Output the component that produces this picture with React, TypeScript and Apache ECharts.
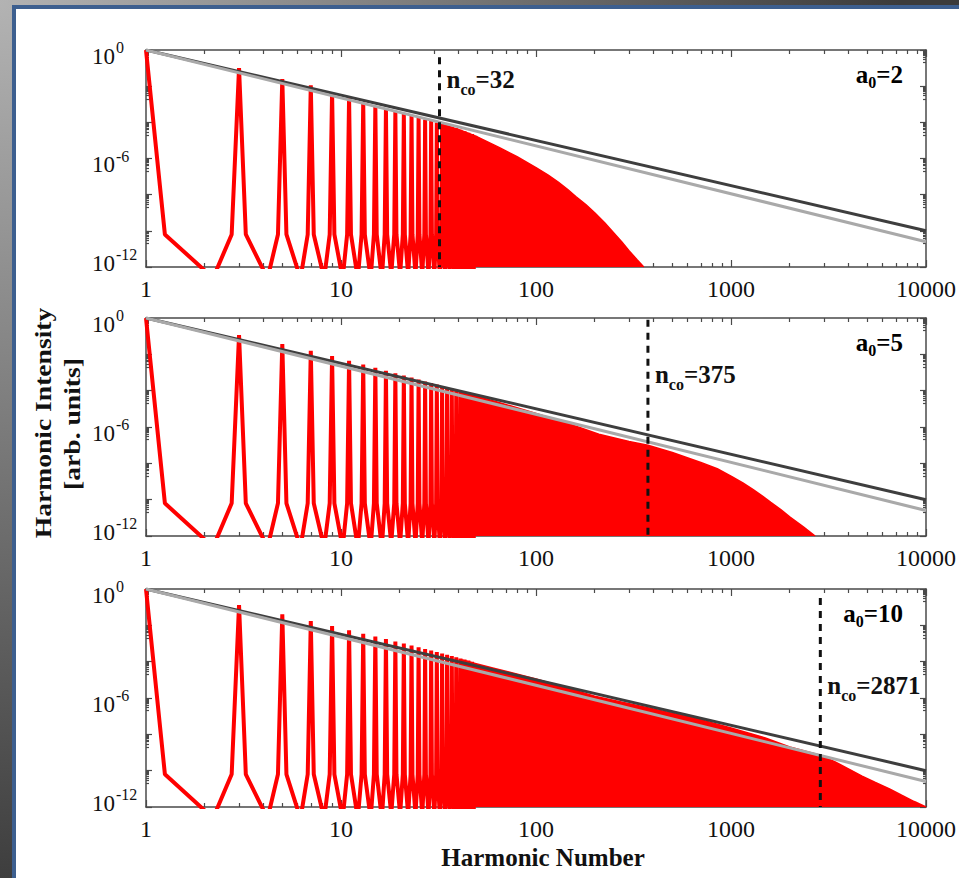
import React, { useEffect, useRef } from "react";
import * as echarts from "echarts";

// Laser strength of each panel and the cut-off harmonic marked in it
const A0_VALUES = ["2", "5", "10"];
const N_CUTOFF = [32, 375, 2871];

// Odd harmonics that are resolved as separate lines
const ODD_HARMONICS = [1, 3, 5, 7, 9, 11, 13, 15, 17, 19, 21, 23, 25, 27, 29, 31, 33, 35, 37, 39, 41, 43, 45, 47];

// log10 of the peak intensity at each odd harmonic
const PEAKS_A2 = [0, -1.0, -1.6, -1.95, -2.35, -2.65, -2.9, -3.1, -3.26, -3.4, -3.53, -3.64, -3.74, -3.84, -3.93, -4.01, -4.09, -4.17, -4.25, -4.33, -4.41, -4.49, -4.57, -4.65];
const PEAKS_A5 = [0, -0.94, -1.43, -1.8, -2.1, -2.35, -2.56, -2.74, -2.9, -3.04, -3.17, -3.28, -3.39, -3.49, -3.58, -3.66, -3.74, -3.82, -3.89, -3.96, -4.03, -4.09, -4.15, -4.21];
const PEAKS_A10 = [0, -0.88, -1.39, -1.76, -2.04, -2.27, -2.46, -2.62, -2.76, -2.89, -3.0, -3.11, -3.21, -3.3, -3.39, -3.47, -3.55, -3.62, -3.69, -3.76, -3.82, -3.88, -3.94, -4.0];

// Flanks of every line: offset from the harmonic and log10 level
const FLANK_OFFSET = [-0.75, -0.25, 0.25, 1.1];
const FLANK_LOG = [-12.4, -10.2, -10.2, -12.4];

// Dense part of the spectrum: upper edge as (harmonic, log10 intensity)
const EDGE_N_A2 = [33, 40, 50, 65, 80, 100, 115, 130, 145, 160, 180, 200, 225, 250, 275, 300, 330, 357];
const EDGE_LOG_A2 = [-4.1, -4.4, -4.8, -5.4, -5.9, -6.5, -6.9, -7.3, -7.7, -8.1, -8.55, -9.0, -9.55, -10.1, -10.6, -11.1, -11.6, -12];
const EDGE_N_A5 = [41, 60, 100, 150, 210, 300, 375, 500, 700, 850, 1000, 1150, 1300, 1450, 1600, 1800, 2000, 2350, 2700];
const EDGE_LOG_A5 = [-4.05, -4.55, -5.25, -5.85, -6.4, -6.8, -7.0, -7.4, -7.95, -8.3, -8.7, -9.08, -9.45, -9.8, -10.15, -10.55, -10.95, -11.5, -12];
const EDGE_N_A10 = [41, 60, 100, 140, 200, 400, 700, 1000, 1500, 2000, 2871, 3400, 4000, 4700, 5500, 6500, 7500, 8700, 10000];
const EDGE_LOG_A10 = [-3.9, -4.35, -4.95, -5.4, -5.9, -6.6, -7.2, -7.65, -8.2, -8.7, -9.15, -9.5, -9.9, -10.3, -10.65, -11.0, -11.35, -11.7, -12];

// Power-law guides: log10 intensity at the two ends of the harmonic range
const GUIDE_N = [1, 10000];
const GUIDE_DARK_LOG = [0, -10];
const GUIDE_LIGHT_LOG = [0, -10.6];

// Axis ticks
const X_MAJOR = [1, 10, 100, 1000, 10000];
const Y_MAJOR_EXP = [-12, -10, -8, -6, -4, -2, 0];
const Y_LABEL_EXP = [-12, -6, 0];

// ---- layout ----
const W = 959;
const H = 878;
const GRID_LEFT = 146;
const GRID_RIGHT = 31;
const GRID_TOP = [50, 318, 589];
const GRID_HEIGHT = [217, 218, 218];
const CUTOFF_TOP_LOG = [-0.4, -0.1, -0.5];
const CUTOFF_LABEL_LOG = [-1.8, -3.25, -5.45];

const SERIF = "'Liberation Serif', 'Times New Roman', serif";
const AXIS_COLOR = "#4a4a4a";
const TEXT_COLOR = "#111111";
const RED = "#ff0000";

const PEAKS = [PEAKS_A2, PEAKS_A5, PEAKS_A10];
const EDGE_N = [EDGE_N_A2, EDGE_N_A5, EDGE_N_A10];
const EDGE_LOG = [EDGE_LOG_A2, EDGE_LOG_A5, EDGE_LOG_A10];

const pow10 = (e: number) => Math.pow(10, e);

const X_MINOR: number[] = [];
for (let k = 0; k < 4; k++) for (let m = 2; m <= 9; m++) X_MINOR.push(m * pow10(k));
const Y_MINOR: number[] = [];
for (let k = -11; k <= -1; k += 2) for (let m = 2; m <= 9; m++) Y_MINOR.push(m * pow10(k));

function lineSpectrum(peaks: number[]) {
  const pts: number[][] = [];
  ODD_HARMONICS.forEach((n, i) => {
    const offs = [FLANK_OFFSET[0], FLANK_OFFSET[1], 0, FLANK_OFFSET[2], FLANK_OFFSET[3]];
    const lv = [FLANK_LOG[0], FLANK_LOG[1], peaks[i], FLANK_LOG[2], FLANK_LOG[3]];
    offs.forEach((o, k) => {
      if (n + o >= 1) pts.push([n + o, pow10(lv[k])]);
    });
  });
  return pts;
}

const yLabelRich = {
  hiB: { fontSize: 23, height: 23, fontFamily: SERIF, color: TEXT_COLOR, verticalAlign: "bottom", padding: [12, 0, 0, 0] },
  hiS: { fontSize: 16, height: 16, fontFamily: SERIF, color: TEXT_COLOR, verticalAlign: "top", padding: [7, 0, 0, 1] },
  loB: { fontSize: 23, height: 23, fontFamily: SERIF, color: TEXT_COLOR, verticalAlign: "bottom", padding: [5, 0, 13, 0] },
  loS: { fontSize: 16, height: 16, fontFamily: SERIF, color: TEXT_COLOR, verticalAlign: "top", padding: [0, 0, 0, 1] },
};

const boldRich = (subPad: number) => ({
  m: { fontSize: 25, height: 25, fontWeight: "bold", fontFamily: SERIF, color: TEXT_COLOR, verticalAlign: "top" },
  s: { fontSize: 16, height: 16, fontWeight: "bold", fontFamily: SERIF, color: TEXT_COLOR, padding: [subPad, 0, 0, 0] },
});

function buildOption() {
  const grid: any[] = [];
  const xAxis: any[] = [];
  const yAxis: any[] = [];
  const series: any[] = [];
  const graphic: any[] = [];

  for (let g = 0; g < 3; g++) {
    grid.push({ left: GRID_LEFT, right: GRID_RIGHT, top: GRID_TOP[g], height: GRID_HEIGHT[g], containLabel: false });

    const xBase = { type: "log", logBase: 10, min: 1, max: 10000, gridIndex: g, splitLine: { show: false }, silent: true };
    const tickStyle = { color: AXIS_COLOR, width: 1.2 };
    (["bottom", "top"] as const).forEach((pos) => {
      xAxis.push({
        ...xBase,
        position: pos,
        axisLine: { show: true, onZero: false, lineStyle: { color: AXIS_COLOR, width: 1.5 } },
        axisTick: { show: true, inside: true, length: 7, customValues: X_MAJOR, lineStyle: tickStyle },
        axisLabel: {
          show: pos === "bottom",
          customValues: X_MAJOR,
          margin: 10,
          fontFamily: SERIF,
          fontSize: 24,
          color: TEXT_COLOR,
          formatter: (v: number) => String(Math.round(v)),
        },
      });
      xAxis.push({
        ...xBase,
        position: pos,
        axisLine: { show: false, onZero: false },
        axisTick: { show: true, inside: true, length: 4, customValues: X_MINOR, lineStyle: tickStyle },
        axisLabel: { show: false },
      });
    });

    const yBase = { type: "log", logBase: 10, min: 1e-12, max: 1, gridIndex: g, splitLine: { show: false }, silent: true };
    const yMajorVals = Y_MAJOR_EXP.map(pow10);
    (["left", "right"] as const).forEach((pos) => {
      yAxis.push({
        ...yBase,
        position: pos,
        axisLine: { show: true, onZero: false, lineStyle: { color: AXIS_COLOR, width: 1.5 } },
        axisTick: { show: true, inside: true, length: 6, customValues: yMajorVals, lineStyle: tickStyle },
        axisLabel: {
          show: pos === "left",
          customValues: Y_LABEL_EXP.map(pow10),
          align: "left",
          margin: 54,
          formatter: (v: number) => {
            const e = Math.round(Math.log10(v));
            const t = e === -12 ? "lo" : "hi";
            return `{${t}B|10}{${t}S|${e}}`;
          },
          rich: yLabelRich,
        },
      });
      yAxis.push({
        ...yBase,
        position: pos,
        axisLine: { show: false, onZero: false },
        axisTick: { show: true, inside: true, length: 3, customValues: Y_MINOR, lineStyle: tickStyle },
        axisLabel: { show: false },
      });
    });

    const xi = g * 4;
    const yi = g * 4;

    series.push({
      type: "line",
      xAxisIndex: xi,
      yAxisIndex: yi,
      data: lineSpectrum(PEAKS[g]),
      showSymbol: false,
      symbol: "none",
      clip: true,
      silent: true,
      z: 2,
      lineStyle: { color: RED, width: 4, join: "bevel" },
    });
    series.push({
      type: "line",
      xAxisIndex: xi,
      yAxisIndex: yi,
      data: EDGE_N[g].map((n, i) => [n, pow10(EDGE_LOG[g][i])]),
      showSymbol: false,
      symbol: "none",
      clip: true,
      silent: true,
      z: 2,
      lineStyle: { color: RED, width: 1.5 },
      areaStyle: { color: RED, opacity: 1, origin: "start" },
    });
    series.push({
      type: "line",
      xAxisIndex: xi,
      yAxisIndex: yi,
      data: GUIDE_N.map((n, i) => [n, pow10(GUIDE_DARK_LOG[i])]),
      showSymbol: false,
      symbol: "none",
      silent: true,
      z: 3,
      lineStyle: { color: "#3e3e3e", width: 3 },
    });
    series.push({
      type: "line",
      xAxisIndex: xi,
      yAxisIndex: yi,
      data: GUIDE_N.map((n, i) => [n, pow10(GUIDE_LIGHT_LOG[i])]),
      showSymbol: false,
      symbol: "none",
      silent: true,
      z: 4,
      lineStyle: { color: "#a9a9a9", width: 3 },
    });
    series.push({
      type: "line",
      xAxisIndex: xi,
      yAxisIndex: yi,
      data: [
        [N_CUTOFF[g], pow10(CUTOFF_TOP_LOG[g])],
        [N_CUTOFF[g], 1e-12],
      ],
      showSymbol: false,
      symbol: "none",
      silent: true,
      z: 5,
      lineStyle: { color: "#111", width: 3, type: [7, 6] },
    });
    series.push({
      type: "scatter",
      xAxisIndex: xi,
      yAxisIndex: yi,
      data: [[N_CUTOFF[g], pow10(CUTOFF_LABEL_LOG[g])]],
      symbolSize: 0,
      silent: true,
      z: 6,
      itemStyle: { opacity: 1, color: TEXT_COLOR },
      label: {
        show: true,
        position: "right",
        distance: 7,
        color: TEXT_COLOR,
        textBorderWidth: 0,
        opacity: 1,
        formatter: () => `{m|n}{s|co}{m|=${N_CUTOFF[g]}}`,
        rich: boldRich(14.5),
      },
    });

    graphic.push({
      type: "text",
      x: W - GRID_RIGHT - 25,
      y: GRID_TOP[g] + 26,
      silent: true,
      style: {
        text: `{m|a}{s|0}{m|=${A0_VALUES[g]}}`,
        align: "right",
        verticalAlign: "middle",
        rich: boldRich(12.5),
      },
    });
  }

  graphic.push({
    type: "text",
    x: 543,
    y: 857,
    silent: true,
    style: {
      text: "Harmonic Number",
      align: "center",
      verticalAlign: "middle",
      fontFamily: SERIF,
      fontWeight: "bold",
      fontSize: 25,
      fill: TEXT_COLOR,
    },
  });
  graphic.push({
    type: "text",
    x: 43,
    y: 423,
    rotation: Math.PI / 2,
    scaleX: 1.2,
    silent: true,
    style: {
      text: "Harmonic Intensity",
      align: "center",
      verticalAlign: "middle",
      fontFamily: SERIF,
      fontWeight: "bold",
      fontSize: 23,
      fill: TEXT_COLOR,
    },
  });
  graphic.push({
    type: "text",
    x: 72,
    y: 424,
    rotation: Math.PI / 2,
    scaleX: 1.2,
    silent: true,
    style: {
      text: "[arb. units]",
      align: "center",
      verticalAlign: "middle",
      fontFamily: SERIF,
      fontWeight: "bold",
      fontSize: 23,
      fill: TEXT_COLOR,
    },
  });

  return { animation: false, grid, xAxis, yAxis, series, graphic };
}

export default function App() {
  const ref = useRef<HTMLDivElement>(null);
  useEffect(() => {
    if (!ref.current) return;
    const chart = echarts.init(ref.current, undefined, { renderer: "svg", width: W, height: H });
    chart.setOption(buildOption() as any);
    return () => chart.dispose();
  }, []);

  return (
    <div
      style={{
        position: "fixed",
        left: 0,
        top: 0,
        width: W,
        height: H,
        overflow: "hidden",
        background: "radial-gradient(circle at 0px 0px, #b3b3b3 0px, #7c7c7c 420px, #3b3b3b 900px)",
      }}
    >
      <div
        style={{
          position: "absolute",
          left: 12,
          top: 5,
          right: 0,
          bottom: 0,
          borderLeft: "4px solid #3d5f8f",
          borderTop: "4px solid #3d5f8f",
          background: "#ffffff",
        }}
      />
      <div ref={ref} style={{ position: "absolute", left: 0, top: 0, width: W, height: H }} />
    </div>
  );
}
